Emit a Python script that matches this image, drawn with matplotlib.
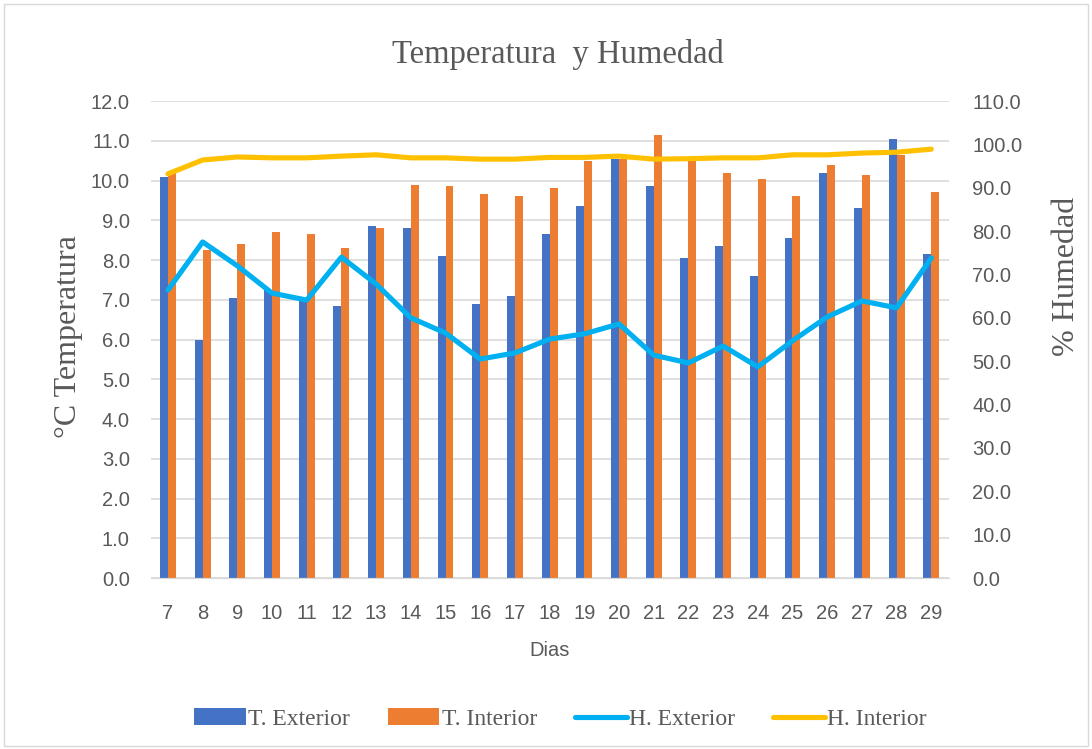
import numpy as np
import matplotlib.pyplot as plt
from matplotlib.patches import Rectangle

dias = [7, 8, 9, 10, 11, 12, 13, 14, 15, 16, 17, 18, 19, 20, 21, 22, 23, 24, 25, 26, 27, 28, 29]

t_exterior = [10.1, 6.0, 7.05, 7.25, 7.0, 6.85, 8.85, 8.8, 8.1, 6.9, 7.1, 8.65,
              9.35, 10.55, 9.85, 8.05, 8.35, 7.6, 8.55, 10.2, 9.3, 11.05, 8.15]
t_interior = [10.2, 8.25, 8.4, 8.7, 8.65, 8.3, 8.8, 9.9, 9.85, 9.65, 9.6, 9.8,
              10.5, 10.55, 11.15, 10.5, 10.2, 10.05, 9.6, 10.4, 10.15, 10.65, 9.7]
h_exterior = [66.4, 77.5, 72.0, 65.7, 64.1, 74.0, 67.8, 60.0, 56.5, 50.5, 51.9, 55.1,
              56.3, 58.6, 51.4, 49.6, 53.5, 48.7, 54.7, 60.2, 63.9, 62.3, 73.8]
h_interior = [93.2, 96.4, 97.1, 96.9, 96.9, 97.3, 97.6, 96.9, 96.9, 96.6, 96.6, 97.0,
              97.0, 97.3, 96.6, 96.7, 96.9, 96.9, 97.6, 97.6, 98.0, 98.2, 98.9]

gris = '#595959'
serif = 'Liberation Serif'
sans = 'Liberation Sans'

fig = plt.figure(figsize=(10.92, 7.49), dpi=100)
fig.patches.append(Rectangle((0.004, 0.004), 0.992, 0.99, transform=fig.transFigure,
                             fill=False, edgecolor='#D9D9D9', linewidth=1))

ax = fig.add_axes([0.1379, 0.2283, 0.7308, 0.6368])
ax2 = ax.twinx()

x = np.arange(len(dias))
w = 0.23
ax.bar(x - w / 2, t_exterior, w, color='#4472C4', label='T. Exterior', zorder=2)
ax.bar(x + w / 2, t_interior, w, color='#ED7D31', label='T. Interior', zorder=2)

ax2.plot(x, h_exterior, color='#00B0F0', lw=3.7, label='H. Exterior', solid_capstyle='round')
ax2.plot(x, h_interior, color='#FFC000', lw=3.7, label='H. Interior', solid_capstyle='round')

ax.set_xlim(-0.5, len(dias) - 0.5)
ax.set_ylim(0, 12)
ax.set_yticks(np.arange(0, 12.1, 1))
ax.set_yticklabels([f'{v:.1f}' for v in np.arange(0, 12.1, 1)])
ax2.set_ylim(0, 110)
ax2.set_yticks(np.arange(0, 110.1, 10))
ax2.set_yticklabels([f'{v:.1f}' for v in np.arange(0, 110.1, 10)])
ax.set_xticks(x)
ax.set_xticklabels([str(d) for d in dias])

ax.grid(axis='y', color='#D9D9D9', lw=1.2, zorder=0)
ax.set_axisbelow(True)
for a in (ax, ax2):
    for s in ['top', 'left', 'right']:
        a.spines[s].set_visible(False)
    a.spines['bottom'].set_color('#D9D9D9')
    a.tick_params(length=0, labelsize=14.5, labelcolor=gris)
    for lbl in a.get_xticklabels() + a.get_yticklabels():
        lbl.set_fontfamily(sans)
ax.tick_params(axis='y', pad=15)
ax.tick_params(axis='x', pad=19)
ax2.tick_params(axis='y', pad=17)

ax.set_xlabel('Dias', fontsize=14.5, color=gris, fontfamily=sans)
ax.xaxis.set_label_coords(0.5, -0.133)
ax.set_ylabel('°C Temperatura', fontsize=23, color=gris, fontfamily=serif)
ax.yaxis.set_label_coords(-0.085, 0.507)
ax2.set_ylabel('% Humedad', fontsize=23, color=gris, fontfamily=serif)
ax2.yaxis.set_label_coords(1.13, 0.633)

fig.text(0.511, 0.916, 'Temperatura  y Humedad', ha='center', va='baseline',
         fontsize=23.5, color=gris, fontfamily=serif)

h1, l1 = ax.get_legend_handles_labels()
h2, l2 = ax2.get_legend_handles_labels()
fig.legend(h1 + h2, l1 + l2, loc='center', bbox_to_anchor=(0.513, 0.04), ncol=4,
           frameon=False, prop={'family': serif, 'size': 17}, labelcolor=gris,
           handlelength=2.2, handletextpad=0.1, columnspacing=1.6)

fig.savefig('out.png', dpi=100)
